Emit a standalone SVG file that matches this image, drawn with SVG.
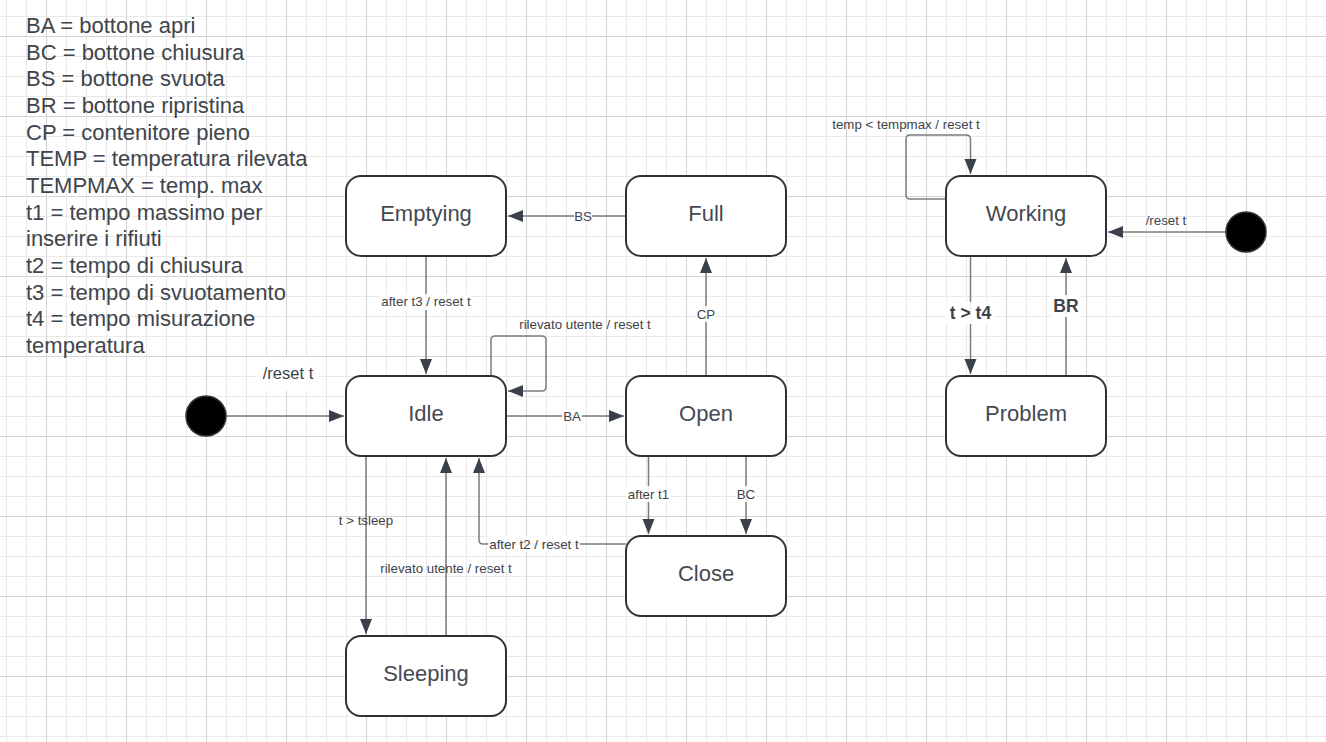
<svg xmlns="http://www.w3.org/2000/svg" width="1326" height="742" viewBox="0 0 1326 742">
<defs>
<pattern id="minor" patternUnits="userSpaceOnUse" width="20" height="20"><path d="M6.5 0V20M0 16.5H20" stroke="#e9e9e9" stroke-width="1" fill="none"/></pattern>
<pattern id="major" patternUnits="userSpaceOnUse" width="80" height="80"><path d="M46.5 0V80M0 36.5H80" stroke="#d4d4d4" stroke-width="1" fill="none"/></pattern>
<marker id="arr" markerUnits="userSpaceOnUse" markerWidth="16" markerHeight="14" refX="15" refY="6" orient="auto"><path d="M0,0 L15,6 L0,12 Z" fill="#3a414a"/></marker>
</defs>
<style>
.node rect{fill:#fff;stroke:#2e3238;stroke-width:2}
.node text{font-family:"Liberation Sans",Arial,sans-serif;font-size:22px;fill:#444a52;text-anchor:middle;dominant-baseline:central}
.c{fill:none;stroke:#7c7c7c;stroke-width:1.5;marker-end:url(#arr)}
.lbl{font-family:"Liberation Sans",Arial,sans-serif;font-size:13.3px;fill:#3e434a;text-anchor:middle;dominant-baseline:central}
.big{font-size:17.5px;font-weight:bold}
.bg{fill:#fff;opacity:0.9}
.legend{font-family:"Liberation Sans",Arial,sans-serif;font-size:22px;fill:#40454c}
.init{fill:#000;stroke:#2e3238;stroke-width:1.5}
</style>
<rect width="1326" height="742" fill="#fff"/>
<rect width="1326" height="742" fill="url(#minor)"/>
<rect width="1326" height="742" fill="url(#major)"/>

<g id="legend" class="legend">
<text x="26" y="33">BA = bottone apri</text>
<text x="26" y="59.7">BC = bottone chiusura</text>
<text x="26" y="86.3">BS = bottone svuota</text>
<text x="26" y="113">BR = bottone ripristina</text>
<text x="26" y="139.7">CP = contenitore pieno</text>
<text x="26" y="166.3">TEMP = temperatura rilevata</text>
<text x="26" y="193">TEMPMAX = temp. max</text>
<text x="26" y="219.7">t1 = tempo massimo per</text>
<text x="26" y="246.3">inserire i rifiuti</text>
<text x="26" y="273">t2 = tempo di chiusura</text>
<text x="26" y="299.7">t3 = tempo di svuotamento</text>
<text x="26" y="326.3">t4 = tempo misurazione</text>
<text x="26" y="353">temperatura</text>
</g>

<g id="connectors">
<path class="c" d="M626,216 H508"/>
<path class="c" d="M426,256 V374"/>
<path class="c" d="M491,376 V340 Q491,336 495,336 H542 Q546,336 546,340 V387 Q546,391 542,391 H508"/>
<path class="c" d="M226,416 H344"/>
<path class="c" d="M506,416 H624"/>
<path class="c" d="M706,376 V258"/>
<path class="c" d="M648.5,456 V534"/>
<path class="c" d="M746,456 V534"/>
<path class="c" d="M626,544 H483 Q479,544 479,540 V458"/>
<path class="c" d="M366,456 V634"/>
<path class="c" d="M446,636 V458"/>
<path class="c" d="M946,199 H910 Q906,199 906,195 V139 Q906,135 910,135 H966 Q970.5,135 970.5,139 V174"/>
<path class="c" d="M1226,232 H1108"/>
<path class="c" d="M970.5,256 V374"/>
<path class="c" d="M1066,376 V258"/>
</g>

<g id="labels">
<rect class="bg" x="574" y="209" width="18" height="15"/>
<text class="lbl" x="583" y="216">BS</text>
<rect class="bg" x="380" y="294" width="92" height="16"/>
<text class="lbl" x="426" y="301.5">after t3 / reset t</text>
<text class="lbl" x="585" y="324">rilevato utente / reset t</text>
<rect class="bg" x="256" y="357" width="62" height="34"/>
<text class="lbl" x="288" y="373" style="font-size:16.5px">/reset t</text>
<rect class="bg" x="562" y="409" width="20" height="15"/>
<text class="lbl" x="572" y="416">BA</text>
<rect class="bg" x="696" y="306" width="20" height="16"/>
<text class="lbl" x="706" y="314">CP</text>
<rect class="bg" x="626" y="486" width="45" height="16"/>
<text class="lbl" x="648.5" y="494">after t1</text>
<rect class="bg" x="736" y="486" width="20" height="16"/>
<text class="lbl" x="746" y="494">BC</text>
<rect class="bg" x="488" y="536" width="92" height="16"/>
<text class="lbl" x="534" y="544">after t2 / reset t</text>
<text class="lbl" x="366" y="520">t &gt; tsleep</text>
<text class="lbl" x="446" y="568">rilevato utente / reset t</text>
<text class="lbl" x="906" y="124">temp &lt; tempmax / reset t</text>
<text class="lbl" x="1166" y="220">/reset t</text>
<rect class="bg" x="946" y="302" width="49" height="22"/>
<text class="lbl big" x="970.5" y="313">t &gt; t4</text>
<rect class="bg" x="1051" y="295" width="30" height="22"/>
<text class="lbl big" x="1066" y="306">BR</text>
</g>

<g id="init1"><circle class="init" cx="206" cy="416" r="20"/></g>
<g id="init2"><circle class="init" cx="1246" cy="232" r="20"/></g>

<g id="Emptying" class="node"><rect x="346" y="176" width="160" height="80" rx="15"/><text x="426" y="213">Emptying</text></g>
<g id="Full" class="node"><rect x="626" y="176" width="160" height="80" rx="15"/><text x="706" y="213">Full</text></g>
<g id="Idle" class="node"><rect x="346" y="376" width="160" height="80" rx="15"/><text x="426" y="413">Idle</text></g>
<g id="Open" class="node"><rect x="626" y="376" width="160" height="80" rx="15"/><text x="706" y="413">Open</text></g>
<g id="Close" class="node"><rect x="626" y="536" width="160" height="80" rx="15"/><text x="706" y="573">Close</text></g>
<g id="Sleeping" class="node"><rect x="346" y="636" width="160" height="80" rx="15"/><text x="426" y="673">Sleeping</text></g>
<g id="Working" class="node"><rect x="946" y="176" width="160" height="80" rx="15"/><text x="1026" y="213">Working</text></g>
<g id="Problem" class="node"><rect x="946" y="376" width="160" height="80" rx="15"/><text x="1026" y="413">Problem</text></g>
</svg>
